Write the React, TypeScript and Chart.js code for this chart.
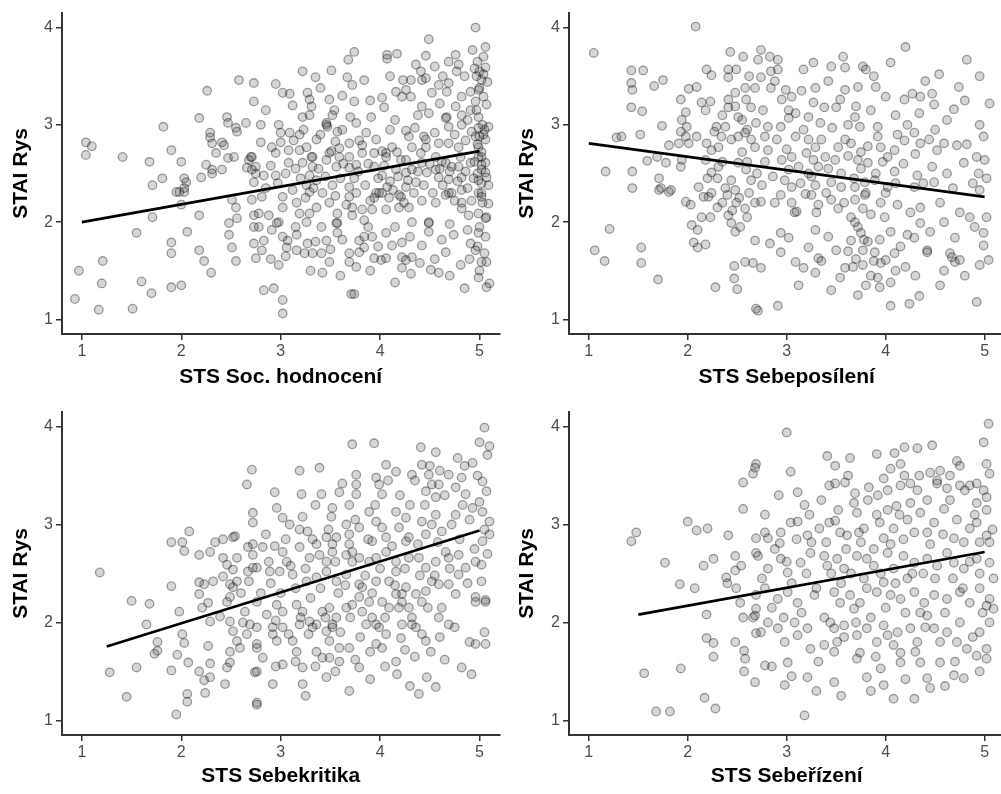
import React, { useEffect, useRef } from "react";
import { Chart, registerables } from "chart.js";
Chart.register(...registerables);

const FONT = "'Liberation Sans', Arial, Helvetica, sans-serif";

const xTicks = [1, 2, 3, 4, 5];
const yTicks = [1, 2, 3, 4];
const xRange = [0.8, 5.2];
const yRange = [0.85, 4.15];
const yTitle = "STAI Rys";

type Pt = [number, number];

const socTitle = "STS Soc. hodnocení";
const socLineX = [1, 5];
const socLineY = [2.0, 2.73];
const socPoints: Pt[] = [
  [1.04,2.82],[1.1,2.78],[1.04,2.69],[1.41,2.67],[1.68,2.62],[1.82,2.98],[1.9,2.74],[2.0,2.62],[1.71,2.38],[1.81,2.45],[2.03,2.45],[2.05,2.41],[2.03,2.35],[1.95,2.31],[2.18,3.07],[2.26,3.35],[2.2,2.46],[2.25,2.59],[2.31,2.5],[2.35,2.71],[2.29,2.92],[2.29,2.87],[2.31,2.81],[2.41,2.82],[2.43,2.79],[2.47,2.66],[2.53,2.67],[2.46,3.08],[2.47,3.02],[2.65,3.02],[2.56,2.93],[2.55,2.97],[2.58,3.46],[2.73,3.43],[2.73,3.24],[2.31,2.54],[2.41,2.54],[2.68,2.64],[2.71,2.67],[2.75,2.57],[2.75,2.5],[2.66,2.56],
  [0.97,1.5],[0.93,1.21],[1.21,1.6],[1.2,1.37],[1.17,1.1],[1.55,1.89],[1.6,1.39],[1.7,1.27],[1.51,1.11],[1.71,2.05],[1.9,1.79],[1.9,1.68],[1.9,1.33],[2.0,1.35],[2.0,2.18],[2.06,1.9],[2.18,2.07],[2.18,1.71],[2.23,1.6],[2.3,1.48],[2.48,1.99],[2.56,2.04],[2.48,1.87],[2.51,1.74],[2.55,1.6],[2.51,2.23],[2.55,2.15],[2.71,2.23],[2.73,2.07],[2.73,1.95],[2.73,1.78],[2.75,1.63],[1.98,2.31],[2.03,2.31],
  [2.83,1.3],[2.93,1.32],[3.02,1.2],[3.02,1.06],[2.98,1.56],[3.71,1.26],[3.74,1.26],[3.42,1.48],[3.49,1.59],[2.81,1.71],[2.83,1.81],[2.78,1.95],[2.91,1.92],[2.96,1.99],[3.02,1.85],[3.07,1.81],[3.06,1.74],[3.16,1.71],[3.24,1.68],[3.32,1.68],[3.27,1.78],[3.16,1.87],[3.41,1.95],[3.46,1.81],[3.41,1.68],[3.57,1.99],[3.57,1.89],[3.69,1.68],[3.69,1.59],[3.76,1.54],[3.79,1.69],[3.84,1.74],[3.79,1.81],[3.84,1.85],[3.92,1.85],[3.94,1.63],[4.01,1.61],[4.06,1.63],[4.06,1.89],[4.12,1.76],[4.22,1.79],[4.22,1.64],[4.26,1.61],[4.32,1.64],[4.31,1.47],[4.22,1.53],[4.42,1.76],[4.49,1.99],[4.49,1.9],[4.51,1.51],[4.59,1.48],[4.66,1.69],[4.74,1.87],[4.81,1.56],[4.82,2.2],[4.91,1.78],[4.96,1.71],[4.99,1.89],[5.02,1.59],[5.07,1.59],[5.07,1.33],[4.99,1.43],[5.06,1.85],[5.06,2.04],
  [2.78,2.09],[2.88,2.07],[2.98,2.0],[3.02,2.15],[3.16,2.2],[3.19,2.09],[3.26,2.0],[3.29,2.09],[3.36,2.15],[3.49,2.2],[3.56,1.99],[3.57,2.09],[3.69,2.26],[3.72,2.15],[3.72,2.07],[3.82,2.13],[3.84,2.02],[3.92,2.13],[3.94,2.25],[3.99,2.3],[4.06,2.13],[4.09,2.25],[4.19,2.15],[4.21,2.26],[4.29,2.15],[4.32,2.0],[4.42,2.22],[4.49,2.0],[4.56,2.2],[4.66,2.28],[4.72,2.3],[4.82,2.14],[4.89,2.07],[4.92,2.22],[4.99,2.09],[5.02,2.26],[5.07,2.05],[5.09,2.19],
  [4.96,4.0],[4.49,3.88],[3.74,3.75],[3.68,3.67],[4.07,3.72],[4.17,3.73],[4.07,3.68],[4.46,3.71],[4.76,3.72],[4.69,3.65],[4.79,3.62],[4.77,3.55],[4.93,3.77],[5.06,3.8],[4.98,3.65],[5.06,3.59],[4.97,3.5],[5.04,3.52],[5.02,3.46],[3.22,3.55],[3.35,3.49],[3.51,3.56],[3.67,3.49],[3.84,3.46],[3.72,3.41],[3.02,3.33],[3.09,3.32],[3.27,3.33],[3.29,3.26],[3.31,3.19],[3.29,3.1],[3.22,3.08],[3.49,3.26],[3.54,3.15],[3.52,3.1],[3.46,3.0],[3.57,2.93],[3.74,3.24],[3.76,3.02],[3.91,3.08],[4.02,3.28],[4.04,3.18],[4.16,3.34],[4.22,3.29],[4.31,3.29],[4.26,3.36],[4.23,3.46],[4.31,3.46],[4.41,3.55],[4.42,3.46],[4.46,3.48],[4.52,3.33],[4.59,3.41],[4.69,3.43],[4.67,3.34],[4.82,3.29],[4.91,3.34],[4.99,3.36],[5.04,3.29],[5.07,3.21],[4.96,3.24],[4.42,3.19],[4.49,3.12],[4.67,3.08],[4.76,3.19],[4.82,3.1],[4.91,3.15],[4.99,3.08],[4.66,3.07],[4.69,2.98],[4.82,3.0],[4.92,2.93],[4.99,2.97],[5.09,2.98],[5.04,2.9],[4.96,2.88],[5.06,2.85],[2.8,3.0],[2.8,2.82],[2.98,3.0],[3.0,2.92],[3.09,2.92],[3.19,2.9],[3.36,2.85],[3.46,3.02],[3.47,2.98],[2.91,2.77],[2.95,2.71],[3.08,2.74],[3.19,2.74],[3.26,2.77],[3.32,2.67],[3.49,2.71],[3.59,2.76],[3.69,2.81],[3.79,2.84],[3.82,2.79],[3.94,2.71],[4.06,2.71],[4.12,2.77],[4.17,2.72],[4.26,2.94],[4.29,2.88],[4.32,2.77],[4.44,2.88],[4.46,2.77],[4.41,2.71],[4.26,2.64],[4.59,2.81],[4.69,2.81],[4.79,2.77],[4.81,2.67],[4.72,2.57],[4.62,2.62],[4.56,2.67],[4.99,2.77],[5.02,2.67],[5.06,2.61],[5.02,2.54],[5.07,2.46],[4.99,2.43],[5.09,2.38],[5.02,2.3],
  [2.7,2.67],[2.71,2.54],[2.73,2.41],[2.83,2.48],[2.95,2.48],[3.08,2.61],[3.22,2.61],[3.31,2.67],[3.32,2.57],[3.29,2.48],[3.36,2.43],[3.46,2.64],[3.51,2.73],[3.56,2.57],[3.59,2.67],[3.69,2.56],[3.69,2.67],[3.76,2.59],[3.82,2.71],[3.94,2.57],[4.02,2.73],[4.06,2.67],[4.02,2.48],[4.07,2.36],[4.16,2.54],[4.21,2.64],[4.26,2.51],[4.32,2.54],[4.36,2.41],[4.42,2.61],[4.46,2.85],[4.47,2.51],[4.56,2.54],[4.59,2.46],[4.66,2.61],[4.69,2.44],[4.79,2.57],[4.82,2.46],[4.91,2.61],[4.99,2.67],[5.02,2.59],[5.02,2.4],[5.06,2.51],[3.69,2.36],[3.76,2.3],[3.96,2.3],[4.02,2.3],[4.19,2.28],[4.26,2.36],[4.69,2.3],[4.82,2.33],[4.99,2.3],[3.29,2.31],[3.26,2.38],[3.02,2.26],[2.81,2.26],
  [5.0,3.55],[5.0,3.38],[4.97,3.15],[5.03,3.0],[4.98,2.8],[5.02,2.72],[4.98,2.5],[5.03,2.2],[5.0,1.95],[4.98,1.75],[5.05,1.68],[5.0,1.5],[5.1,1.37],[5.04,3.7],[5.08,3.44],[4.95,3.58],[5.0,2.88],[5.05,2.95],[4.95,2.62],
  [2.85,2.35],[2.9,2.58],[2.97,2.4],[3.05,2.5],[3.12,2.33],[3.15,2.55],[3.2,2.45],[3.25,2.25],[3.33,2.35],[3.38,2.55],[3.42,2.3],[3.45,2.47],[3.52,2.38],[3.55,2.27],[3.6,2.45],[3.63,2.6],[3.66,2.18],[3.74,2.45],[3.78,2.52],[3.85,2.38],[3.88,2.6],[3.9,2.22],[3.98,2.45],[4.04,2.58],[4.1,2.42],[4.13,2.33],[4.18,2.47],[4.24,2.2],[4.28,2.43],[4.34,2.3],[4.38,2.52],[4.44,2.38],[4.5,2.6],[4.53,2.3],[4.6,2.55],[4.63,2.38],[4.7,2.52],[4.75,2.22],[4.78,2.42],[4.86,2.52],[4.88,2.35],[4.94,2.45],[3.0,2.82],[3.13,2.84],[3.23,2.95],[3.4,2.9],[3.55,2.83],[3.62,2.95],[3.7,3.08],[3.86,2.92],[3.96,2.85],[4.1,2.95],[4.15,3.05],[4.35,2.97],[4.38,3.1],[4.55,2.92],[4.6,3.22],[4.75,2.9],[4.86,2.84],[4.88,3.05],[2.85,3.15],[2.95,3.42],[3.12,3.2],[3.4,3.38],[3.62,3.3],[3.9,3.25],[4.1,3.5],[4.36,3.62],[4.55,3.6],[4.63,3.5],[4.85,3.5],[3.05,1.65],[3.15,1.95],[3.35,1.8],[3.5,1.72],[3.62,1.82],[3.88,1.95],[3.98,1.75],[4.15,1.95],[4.3,1.85],[4.4,1.58],[4.55,1.62],[4.62,1.82],[4.7,1.98],[4.88,1.92],[4.9,1.62],[3.6,1.45],[3.9,1.5],[4.15,1.38],[4.7,1.45],[4.85,1.32],[3.3,1.5],[2.9,1.62]
];

const posTitle = "STS Sebeposílení";
const posLineX = [1, 5];
const posLineY = [2.81, 2.26];
const posPoints: Pt[] = [
  [1.05,3.74],[2.08,4.01],[1.43,3.56],[1.55,3.56],[1.43,3.43],[1.44,3.36],[1.66,3.4],[1.75,3.46],[2.01,3.37],[2.09,3.39],[2.19,3.57],[2.24,3.51],[2.41,3.57],[2.49,3.57],[2.41,3.49],[2.43,3.75],[2.56,3.7],[1.43,3.18],[1.54,3.14],[1.93,3.26],[1.98,3.13],[1.94,3.05],[1.99,2.98],[1.93,2.93],[1.98,2.88],[1.74,2.99],[1.52,2.9],[1.33,2.88],[1.28,2.87],[2.14,3.23],[2.23,3.24],[2.18,3.15],[2.29,2.98],[2.38,2.98],[2.41,3.18],[2.41,3.26],[2.48,3.19],[2.48,3.33],[2.58,3.38],[2.59,3.26],[2.51,3.08],[1.59,2.63],[1.69,2.67],[1.78,2.61],[1.81,2.79],[1.91,2.81],[2.01,2.81],[2.09,2.88],[1.17,2.52],[1.44,2.52],[1.44,2.35],[1.71,2.45],[1.73,2.35],[1.83,2.33],[1.93,2.57],[1.94,2.64],[2.19,2.81],[2.24,2.74],[2.31,2.77],[2.34,2.88],[2.44,2.85],[2.51,2.88],[2.58,2.92],[2.64,2.85],[2.18,2.64],[2.24,2.51],[2.31,2.57],[2.44,2.43],[2.51,2.61],[2.59,2.54],[2.64,2.43],[2.11,2.36],[2.24,2.3],[2.48,2.33],
  [1.06,1.71],[1.16,1.6],[1.21,1.93],[1.53,1.74],[1.53,1.58],[1.7,1.41],[2.04,1.97],[2.1,1.92],[2.06,1.79],[2.1,1.74],[2.18,1.77],[2.28,1.33],[2.47,1.55],[2.47,1.42],[2.5,1.31],[2.58,1.59],[2.66,1.58],[1.98,2.21],[2.03,2.18],[2.16,2.26],[2.21,2.26],[2.23,2.05],[2.14,2.05],[2.41,2.07],[2.44,1.99],[2.48,1.9],[2.53,1.95],[2.49,2.2],[2.58,2.14],[2.68,2.2],[2.68,1.81],[2.69,1.11],[1.71,2.33],[1.81,2.31],
  [2.71,1.09],[2.91,1.14],[3.72,1.25],[4.05,1.14],[4.24,1.16],[4.34,1.24],[4.92,1.18],[2.74,1.53],[2.94,1.69],[3.09,1.59],[3.17,1.53],[3.29,1.48],[3.32,1.63],[3.54,1.43],[3.59,1.53],[3.67,1.54],[3.77,1.56],[3.8,1.35],[3.92,1.43],[3.94,1.33],[4.05,1.38],[4.2,1.54],[4.42,1.69],[4.59,1.5],[4.67,1.64],[4.7,1.59],[4.75,1.61],[4.95,1.56],[5.04,1.61],[2.74,2.21],[2.94,2.28],[3.05,2.2],[3.1,2.11],[3.25,2.28],[3.32,2.18],[3.45,2.23],[3.52,2.14],[3.69,2.23],[3.77,2.14],[3.79,2.28],[3.95,2.2],[3.99,2.05],[4.12,2.18],[4.35,2.15],[4.35,1.99],[4.59,2.0],[4.85,2.05],[4.99,1.89],[4.99,1.76],[4.7,1.84],[4.65,1.68],[2.83,1.78],[2.94,1.89],[3.02,1.84],[3.22,1.74],[3.29,1.92],[3.42,1.85],[3.5,1.71],[3.65,1.81],[3.69,2.0],[3.75,1.89],[3.77,1.71],[3.89,1.69],[4.0,1.61],[4.09,1.68],[4.22,1.87],[4.29,1.84],[4.42,1.71],
  [2.74,3.77],[2.71,3.67],[2.83,3.7],[2.91,3.67],[2.91,3.57],[2.84,3.55],[2.74,3.49],[2.84,3.38],[2.68,3.38],[2.99,3.36],[3.05,3.29],[2.95,3.26],[3.02,3.15],[3.09,3.12],[2.94,2.98],[3.02,3.07],[2.64,3.18],[2.76,3.15],[2.69,3.02],[2.81,2.98],[2.78,2.88],[2.68,2.77],[2.81,2.74],[3.17,3.57],[3.27,3.64],[3.42,3.45],[3.29,3.38],[3.27,3.23],[3.22,3.08],[3.34,3.02],[3.57,3.7],[3.59,3.59],[3.77,3.6],[3.8,3.57],[3.72,3.39],[3.59,3.36],[3.54,3.26],[3.5,3.18],[3.7,3.19],[3.69,3.08],[3.74,2.98],[3.9,3.39],[4.0,3.29],[3.92,2.98],[4.05,3.64],[4.2,3.8],[4.19,3.26],[4.27,3.32],[4.35,3.29],[4.47,3.32],[4.54,3.52],[4.49,3.21],[4.34,3.12],[4.74,3.39],[4.69,3.16],[4.82,3.67],[5.05,3.22],[4.95,3.0],[4.99,2.88],
  [3.09,2.88],[3.22,2.85],[3.29,2.77],[3.2,2.71],[3.27,2.64],[3.05,2.67],[2.95,2.64],[3.02,2.54],[3.12,2.57],[3.22,2.5],[3.32,2.57],[3.39,2.67],[3.49,2.64],[3.59,2.85],[3.52,2.77],[3.65,2.81],[3.75,2.72],[3.72,2.64],[3.82,2.61],[3.92,2.88],[3.95,2.77],[4.02,2.67],[4.09,2.74],[4.19,2.84],[4.29,2.92],[4.35,2.81],[4.44,2.85],[4.52,2.74],[4.59,2.81],[4.47,2.57],[4.49,2.41],[4.32,2.48],[4.72,2.79],[4.79,2.61],[4.92,2.67],[5.0,2.64],[4.94,2.5],[5.02,2.45],[4.95,2.33],[3.05,2.36],[3.19,2.29],[3.29,2.38],[3.45,2.41],[3.55,2.36],[3.69,2.36],[3.79,2.41],[3.89,2.43],[4.02,2.36],[4.09,2.52],[4.29,2.36],
  [2.35,2.2],[2.4,2.28],[2.52,2.25],[2.6,2.05],[2.45,2.12],[2.3,2.15],
  [2.3,2.45],[2.35,2.62],[2.38,2.35],[2.55,2.72],[2.6,2.62],[2.62,2.3],[2.7,2.5],[2.75,2.38],[2.78,2.62],[2.86,2.47],[2.88,2.2],[2.9,2.85],[2.98,2.43],[3.0,2.75],[3.08,2.1],[3.14,2.4],[3.17,2.95],[3.25,2.47],[3.3,2.1],[3.35,2.85],[3.4,2.3],[3.42,2.55],[3.46,2.97],[3.55,2.5],[3.58,2.2],[3.62,2.68],[3.65,2.05],[3.68,2.45],[3.72,1.95],[3.75,2.55],[3.78,1.82],[3.8,2.3],[3.82,2.78],[3.85,2.08],[3.88,1.6],[3.9,2.5],[3.94,1.82],[3.97,2.62],[4.0,2.3],[4.05,1.9],[4.1,2.4],[4.12,2.9],[4.15,1.75],[4.18,2.6],[4.25,2.1],[4.3,2.7],[4.38,2.4],[4.45,1.9],[4.5,2.95],[4.55,2.2],[4.62,2.5],[4.68,2.35],[4.75,2.1],[4.82,2.8],[4.88,2.4],[4.9,1.95],[5.02,2.05],[2.2,2.45],[2.27,2.93],[2.35,3.1],[2.55,3.05],[2.6,2.95],[2.62,3.5],[2.88,3.45],[3.15,3.35],[3.38,3.18],[3.45,3.6],[3.62,3.0],[3.85,3.15],[3.88,3.5],[4.1,3.1],[4.22,3.0],[4.4,3.45],[4.62,3.05],[4.8,3.25],[4.95,3.5],[3.12,1.35],[3.35,1.6],[3.45,1.3],[3.62,1.7],[3.85,1.45],[4.1,1.5],[4.3,1.45],[4.55,1.35],[4.8,1.45],[3.95,1.58],[3.7,1.62],[3.82,1.8]
];

const kritTitle = "STS Sebekritika";
const kritLineX = [1.25, 5];
const kritLineY = [1.755, 2.94];
const kritPoints: Pt[] = [
  [1.18,2.51],[1.28,1.49],[1.45,1.24],[1.5,2.22],[1.55,1.54],[1.68,2.19],[1.65,1.98],[1.76,1.8],[1.76,1.71],[1.73,1.68],[1.9,1.51],[1.9,2.37],[1.9,2.82],[2.01,2.82],[2.03,2.73],[2.08,2.93],[1.98,2.11],[2.01,1.88],[2.03,1.79],[1.96,1.67],[2.07,1.59],[1.95,1.06],[2.06,1.27],[2.06,1.19],[2.18,1.5],[2.23,1.41],[2.29,1.44],[2.24,1.28],[2.18,2.69],[2.29,2.72],[2.34,2.82],[2.42,2.85],[2.52,2.87],[2.54,2.88],[2.18,2.29],[2.23,2.39],[2.32,2.42],[2.18,2.41],[2.21,2.15],[2.27,2.2],[2.29,2.01],[2.27,1.76],[2.29,1.58],[2.42,2.66],[2.46,2.59],[2.56,2.66],[2.52,2.54],[2.49,2.39],[2.42,2.47],[2.49,2.26],[2.46,2.21],[2.52,2.36],[2.56,2.42],[2.39,2.06],[2.49,2.01],[2.52,1.91],[2.56,1.81],[2.49,1.7],[2.59,1.74],[2.46,1.54],[2.44,1.37],[2.49,1.59],[2.66,3.41],[2.71,3.56],[2.72,3.12],[2.72,3.02],[2.67,2.77],[2.72,2.69],[2.67,2.52],[2.72,2.56],[2.64,2.11],[2.69,1.98],[2.76,1.95],[2.66,1.88],[2.76,1.74],[2.74,1.49],[2.76,1.18],
  [5.05,3.99],[3.72,3.82],[3.94,3.83],[4.41,3.79],[4.56,3.74],[5.0,3.84],[5.1,3.8],[5.08,3.71],[4.78,3.68],[4.93,3.63],[3.19,3.55],[3.39,3.58],[3.76,3.51],[3.76,3.41],[3.96,3.48],[3.99,3.41],[4.06,3.61],[4.16,3.54],[4.02,3.31],[4.32,3.51],[4.42,3.61],[4.49,3.51],[4.52,3.41],[4.46,3.34],[4.59,3.41],[4.56,3.28],[4.69,3.51],[4.76,3.38],[4.82,3.48],[4.86,3.31],[5.03,3.44],[5.07,3.34],[5.0,3.23],[5.03,3.13],[5.1,3.03],[5.1,2.9],[5.03,2.83],[4.93,3.17],[4.83,3.2],[4.76,3.1],[2.94,3.33],[3.21,3.31],[3.41,3.31],[3.59,3.33],[3.69,3.2],[3.76,3.31],[3.52,3.17],
  [2.96,3.17],[3.02,3.07],[3.09,3.0],[3.22,3.08],[3.19,2.95],[3.27,2.93],[3.51,3.08],[3.46,2.87],[3.56,2.87],[3.52,2.8],[3.66,3.0],[3.69,2.9],[3.69,2.8],[3.79,2.97],[3.89,3.13],[3.96,3.03],[4.02,2.97],[3.92,2.83],[4.06,2.87],[4.16,3.13],[4.19,2.97],[4.26,3.07],[4.29,2.87],[4.42,3.03],[4.52,3.0],[4.46,2.9],[4.56,3.1],[4.62,2.93],
  [2.72,2.8],[2.82,2.77],[2.94,2.78],[3.02,2.72],[3.06,2.62],[3.19,2.77],[3.29,2.66],[3.36,2.8],[3.39,2.69],[3.46,2.62],[3.52,2.72],[3.66,2.69],[3.72,2.72],[3.79,2.66],[3.89,2.62],[3.96,2.66],[4.06,2.72],[4.16,2.62],[4.26,2.83],[4.29,2.66],[4.39,2.66],[4.46,2.56],[4.56,2.62],[4.66,2.72],[4.69,2.66],[4.79,2.69],[4.86,2.56],[4.96,2.62],[5.02,2.59],
  [2.76,2.56],[2.89,2.52],[2.99,2.52],[3.12,2.49],[3.26,2.42],[3.36,2.46],[3.46,2.52],[3.56,2.42],[3.66,2.49],[3.79,2.39],[3.82,2.36],[3.96,2.42],[4.09,2.42],[4.16,2.52],[4.22,2.29],[4.26,2.36],[4.36,2.29],[4.46,2.32],[4.52,2.42],[4.59,2.39],[4.69,2.39],[4.79,2.49],[4.96,2.21],[5.06,2.23],[5.02,2.42],[4.76,2.29],[4.42,2.21],[4.29,2.15],
  [2.76,2.21],[2.86,2.08],[2.96,2.18],[3.02,2.11],[3.16,2.18],[3.22,2.11],[3.29,2.01],[3.36,1.98],[3.42,2.11],[3.49,2.15],[3.52,1.95],[3.56,2.05],[3.66,2.15],[3.72,2.18],[3.79,2.26],[3.82,2.11],[3.89,2.21],[3.92,2.05],[4.02,2.21],[4.09,2.15],[4.16,2.29],[4.19,2.15],[4.22,2.21],
  [2.76,1.78],[2.82,1.64],[2.92,1.88],[2.96,1.81],[2.92,1.95],[3.02,1.95],[3.12,1.81],[3.16,1.7],[3.19,1.98],[3.32,1.95],[3.36,1.7],[3.46,1.91],[3.49,1.81],[3.52,1.98],[3.49,1.64],[3.42,1.64],[3.46,1.44],[3.59,1.74],[3.59,1.6],[3.69,1.74],[3.79,1.54],[3.86,1.98],[3.96,1.98],[3.99,1.95],[3.96,1.78],[4.02,1.74],[4.06,1.88],[4.16,1.6],[4.17,1.47],[4.22,1.98],[4.21,1.84],[4.32,1.98],[4.36,1.95],[4.42,1.88],[4.46,1.81],[4.51,1.7],[4.47,1.44],[4.39,1.27],[4.56,1.34],[4.59,2.05],[4.69,1.98],[4.82,1.54],[4.92,1.47],[4.96,1.78],[5.06,1.78],[4.96,2.26],[5.06,2.21],[3.69,1.3],[3.22,1.37],[2.92,1.37],[2.76,1.16],[2.76,1.5],[3.02,1.57],[3.22,1.54],
  [2.6,2.3],[2.62,2.0],[2.68,2.42],[2.8,2.3],[2.85,2.9],[2.88,2.62],[2.9,2.4],[2.95,2.02],[3.0,2.3],[3.05,2.85],[3.08,1.88],[3.1,2.58],[3.15,2.35],[3.2,2.05],[3.25,2.55],[3.28,1.88],[3.3,2.25],[3.32,2.85],[3.35,3.2],[3.4,2.35],[3.45,2.05],[3.48,2.95],[3.55,2.62],[3.58,2.3],[3.6,1.9],[3.62,3.42],[3.65,2.38],[3.7,2.05],[3.72,2.62],[3.75,3.05],[3.8,1.85],[3.85,2.48],[3.88,2.85],[3.92,2.3],[3.95,3.2],[4.0,2.55],[4.05,2.05],[4.08,3.45],[4.12,2.78],[4.15,2.38],[4.2,3.3],[4.25,2.55],[4.3,3.2],[4.32,2.05],[4.35,3.45],[4.38,2.8],[4.4,2.48],[4.45,3.2],[4.48,2.15],[4.5,3.6],[4.55,2.48],[4.58,2.82],[4.6,3.55],[4.62,2.15],[4.65,3.3],[4.7,2.55],[4.72,3.0],[4.8,2.85],[4.85,3.6],[4.88,2.4],[4.9,3.05],[4.95,2.75],[4.98,3.5],[5.05,2.95],[5.08,2.7],[5.05,1.9],[4.9,1.8],[4.75,1.95],[4.65,1.62],[4.35,1.65],[4.25,1.72],[4.05,1.55],[3.9,1.7],[3.75,1.62],[3.55,1.5],[3.35,1.55],[3.15,1.6],[2.95,1.55],[3.9,1.42],[4.6,1.85],[3.25,1.25],[4.3,1.35]
];

const rizTitle = "STS Sebeřízení";
const rizLineX = [1.5, 5];
const rizLineY = [2.08, 2.72];
const rizPoints: Pt[] = [
  [1.43,2.83],[1.48,2.92],[1.56,1.48],[1.68,1.09],[1.82,1.09],[1.77,2.61],[1.93,1.53],[1.92,2.39],[2.07,2.35],[2.0,3.03],[2.09,2.94],[2.2,2.96],[2.16,2.58],[2.26,2.65],[2.19,2.08],[2.19,1.84],[2.26,1.79],[2.26,1.65],[2.17,1.23],[2.28,1.12],[2.41,2.89],[2.39,2.46],[2.4,2.4],[2.48,2.68],[2.48,2.53],[2.54,2.58],[2.49,2.35],[2.53,2.2],[2.56,2.05],[2.66,2.05],[2.48,1.8],[2.57,1.71],[2.58,1.63],[2.57,1.5],[2.68,1.39],[2.56,3.43],[2.56,3.16],[2.68,3.58],[2.66,3.52],[2.69,2.71],[2.69,2.86],[2.69,2.28],[2.69,2.14],[2.69,1.89],
  [3.0,3.94],[5.04,4.03],[4.99,3.84],[5.02,3.62],[5.05,3.52],[3.41,3.7],[3.49,3.6],[3.64,3.68],[3.91,3.72],[4.09,3.73],[4.19,3.79],[4.32,3.78],[4.47,3.81],[4.15,3.62],[4.05,3.57],[4.72,3.65],[4.75,3.6],[2.69,3.62],[3.04,3.54],[3.11,3.33],[3.43,3.4],[3.49,3.42],[3.59,3.43],[3.69,3.32],[3.83,3.38],[3.98,3.47],[4.02,3.35],[4.19,3.5],[4.25,3.42],[4.34,3.5],[4.45,3.53],[4.55,3.55],[4.65,3.5],[4.52,3.42],[4.62,3.37],[4.75,3.4],[4.85,3.4],[4.92,3.42],[4.99,3.35],[5.02,3.28],[4.92,3.22],
  [2.78,2.92],[2.81,2.86],[2.94,2.92],[2.93,2.81],[3.04,3.02],[3.11,3.03],[3.23,3.1],[3.21,2.89],[3.33,2.96],[3.43,3.02],[3.49,3.04],[3.54,2.92],[3.61,2.89],[3.73,2.92],[3.78,2.96],[3.71,3.12],[3.68,3.22],[3.91,3.1],[3.94,3.02],[3.98,2.86],[4.08,2.96],[4.11,3.19],[4.14,3.1],[4.25,3.22],[4.29,2.92],[4.35,3.12],[4.42,2.92],[4.49,3.02],[4.59,3.16],[4.69,2.86],[4.79,2.82],[4.85,2.96],[4.95,2.82],[5.02,2.89],[5.05,2.82],[4.92,3.02],
  [2.71,2.68],[2.81,2.55],[2.94,2.65],[3.01,2.51],[3.14,2.61],[3.24,2.71],[3.38,2.68],[3.41,2.58],[3.51,2.65],[3.58,2.55],[3.71,2.68],[3.81,2.65],[3.88,2.58],[4.02,2.71],[4.08,2.55],[4.18,2.68],[4.29,2.61],[4.42,2.65],[4.52,2.58],[4.62,2.71],[4.69,2.61],[4.79,2.55],[4.92,2.65],[5.05,2.61],[5.09,2.45],
  [2.78,2.35],[2.91,2.24],[3.01,2.31],[3.11,2.2],[3.28,2.28],[3.48,2.31],[3.54,2.2],[3.64,2.28],[3.74,2.2],[3.81,2.35],[3.91,2.31],[3.98,2.41],[4.05,2.28],[4.15,2.24],[4.22,2.45],[4.29,2.31],[4.39,2.2],[4.49,2.28],[4.62,2.24],[4.75,2.31],[4.85,2.2],[4.95,2.35],[5.02,2.17],[5.05,2.24],
  [2.68,2.07],[2.81,2.0],[2.74,1.9],[2.91,1.94],[2.98,1.8],[3.08,2.0],[3.11,1.87],[3.21,1.94],[3.24,1.73],[3.38,1.77],[3.44,2.0],[3.48,1.94],[3.51,1.8],[3.58,1.97],[3.68,2.14],[3.71,1.87],[3.74,1.69],[3.81,1.94],[3.91,1.8],[3.98,1.97],[4.02,1.87],[4.08,1.77],[4.15,1.69],[4.25,1.94],[4.32,1.8],[4.35,2.1],[4.42,2.07],[4.49,1.94],[4.62,1.9],[4.72,1.8],[4.75,2.0],[4.82,1.73],[4.95,1.9],[5.02,1.73],[5.09,2.14],
  [2.78,1.56],[2.98,1.36],[3.01,1.59],[3.21,1.44],[3.18,1.05],[3.48,1.39],[3.81,1.44],[3.98,1.36],[4.08,1.22],[4.29,1.22],[4.42,1.43],[4.45,1.33],[4.55,1.59],[4.69,1.46],[4.79,1.43],[4.92,1.66],[5.02,1.63],[4.15,1.59],[4.35,1.59],[3.95,1.53],[3.71,1.63],
  [2.75,2.45],[2.78,3.1],[2.85,2.15],[2.88,2.75],[2.92,3.3],[2.97,2.05],[3.0,2.62],[3.05,2.4],[3.1,2.85],[3.15,2.1],[3.18,3.2],[3.2,2.5],[3.25,2.82],[3.3,2.35],[3.32,1.6],[3.35,3.25],[3.38,2.05],[3.4,2.82],[3.45,2.5],[3.48,1.7],[3.52,3.15],[3.55,2.4],[3.58,1.85],[3.6,2.75],[3.62,3.5],[3.65,2.5],[3.7,2.0],[3.75,2.82],[3.78,2.45],[3.82,3.25],[3.85,2.05],[3.88,2.75],[3.9,1.65],[3.92,3.3],[3.95,2.5],[4.0,2.15],[4.02,3.15],[4.05,2.8],[4.1,2.4],[4.12,1.9],[4.15,3.4],[4.18,2.85],[4.2,2.1],[4.22,3.05],[4.27,2.5],[4.3,1.7],[4.32,3.35],[4.38,2.5],[4.4,1.95],[4.42,3.25],[4.45,2.8],[4.5,2.45],[4.52,3.45],[4.55,1.8],[4.58,2.9],[4.6,2.1],[4.65,3.25],[4.68,2.45],[4.7,1.6],[4.72,3.05],[4.78,2.35],[4.8,3.35],[4.85,2.62],[4.88,1.85],[4.9,3.1],[4.95,2.5],[4.98,2.1],[5.02,3.15],[5.05,2.0],[5.08,2.95],[4.95,1.5],[4.6,1.35],[4.2,1.42],[3.85,1.3],[3.55,1.25],[3.3,1.3],[3.05,1.45],[2.85,1.55]
];

interface PanelCfg {
  title: string;
  points: Pt[];
  lineX: number[];
  lineY: number[];
  left: number;
  top: number;
  width: number;
  height: number;
  padTop: number;
  padRight: number;
  yAxisW: number;
  xAxisH: number;
  yTitlePad: number;
}

const panels: PanelCfg[] = [
  { title: socTitle, points: socPoints, lineX: socLineX, lineY: socLineY, left: 0, top: 0, width: 505, height: 395, padTop: 13, padRight: 4, yAxisW: 62, xAxisH: 61, yTitlePad: 9 },
  { title: posTitle, points: posPoints, lineX: posLineX, lineY: posLineY, left: 500, top: 0, width: 510, height: 395, padTop: 13, padRight: 2, yAxisW: 69, xAxisH: 61, yTitlePad: 15 },
  { title: kritTitle, points: kritPoints, lineX: kritLineX, lineY: kritLineY, left: 0, top: 395, width: 505, height: 399, padTop: 17, padRight: 4, yAxisW: 62, xAxisH: 59, yTitlePad: 9 },
  { title: rizTitle, points: rizPoints, lineX: rizLineX, lineY: rizLineY, left: 500, top: 395, width: 510, height: 399, padTop: 17, padRight: 2, yAxisW: 69, xAxisH: 59, yTitlePad: 15 },
];

function Panel({ cfg }: { cfg: PanelCfg }) {
  const ref = useRef<HTMLCanvasElement>(null);
  useEffect(() => {
    const axisCommon = {
      border: { display: true, color: "#333333", width: 2 },
      grid: { display: true, drawOnChartArea: false, drawTicks: true, tickLength: 6, color: "#333333", lineWidth: 1.5 },
    };
    const chart = new Chart(ref.current as HTMLCanvasElement, {
      type: "scatter",
      data: {
        datasets: [
          {
            data: cfg.lineX.map((x, i) => ({ x, y: cfg.lineY[i] })),
            showLine: true,
            borderColor: "#000000",
            borderWidth: 2.6,
            pointRadius: 0,
            order: 0,
          },
          {
            data: cfg.points.map(([x, y]) => ({ x, y })),
            pointRadius: 4.3,
            pointBackgroundColor: "rgba(0,0,0,0.16)",
            pointBorderColor: "rgba(0,0,0,0.36)",
            pointBorderWidth: 1.3,
            order: 1,
          },
        ],
      } as any,
      options: {
        responsive: false,
        animation: false,
        devicePixelRatio: 1,
        events: [],
        layout: { padding: { top: cfg.padTop, right: cfg.padRight, bottom: 0, left: 0 } },
        plugins: { legend: { display: false }, tooltip: { enabled: false } },
        scales: {
          x: {
            type: "linear",
            min: xRange[0],
            max: xRange[1],
            ...axisCommon,
            afterBuildTicks: (s: any) => { s.ticks = xTicks.map((v) => ({ value: v })); },
            afterFit: (s: any) => { s.height = cfg.xAxisH; s.paddingLeft = 0; s.paddingRight = 0; s.paddingTop = 0; s.paddingBottom = 0; },
            ticks: { padding: 2, color: "#4d4d4d", font: { family: FONT, size: 16 }, maxRotation: 0, autoSkip: false, callback: (v: any) => String(v) },
            title: { display: true, text: cfg.title, color: "#000000", font: { family: FONT, size: 21, weight: "bold" }, padding: { top: 0, bottom: 5 } },
          },
          y: {
            type: "linear",
            min: yRange[0],
            max: yRange[1],
            ...axisCommon,
            afterBuildTicks: (s: any) => { s.ticks = yTicks.map((v) => ({ value: v })); },
            afterFit: (s: any) => { s.width = cfg.yAxisW; s.paddingLeft = 0; s.paddingRight = 0; s.paddingTop = 0; s.paddingBottom = 0; },
            ticks: { padding: 3, color: "#4d4d4d", font: { family: FONT, size: 16 }, autoSkip: false, callback: (v: any) => String(v) },
            title: { display: true, text: yTitle, color: "#000000", font: { family: FONT, size: 21, weight: "bold" }, padding: { top: cfg.yTitlePad, bottom: 0 } },
          },
        },
      } as any,
    });
    return () => chart.destroy();
  }, [cfg]);
  return (
    <canvas
      ref={ref}
      width={cfg.width}
      height={cfg.height}
      style={{ position: "absolute", left: cfg.left, top: cfg.top, width: cfg.width, height: cfg.height }}
    />
  );
}

export default function App() {
  return (
    <div style={{ position: "fixed", left: 0, top: 0, width: 1001, height: 794, overflow: "hidden", background: "#ffffff" }}>
      {panels.map((p, i) => (
        <Panel key={i} cfg={p} />
      ))}
    </div>
  );
}
